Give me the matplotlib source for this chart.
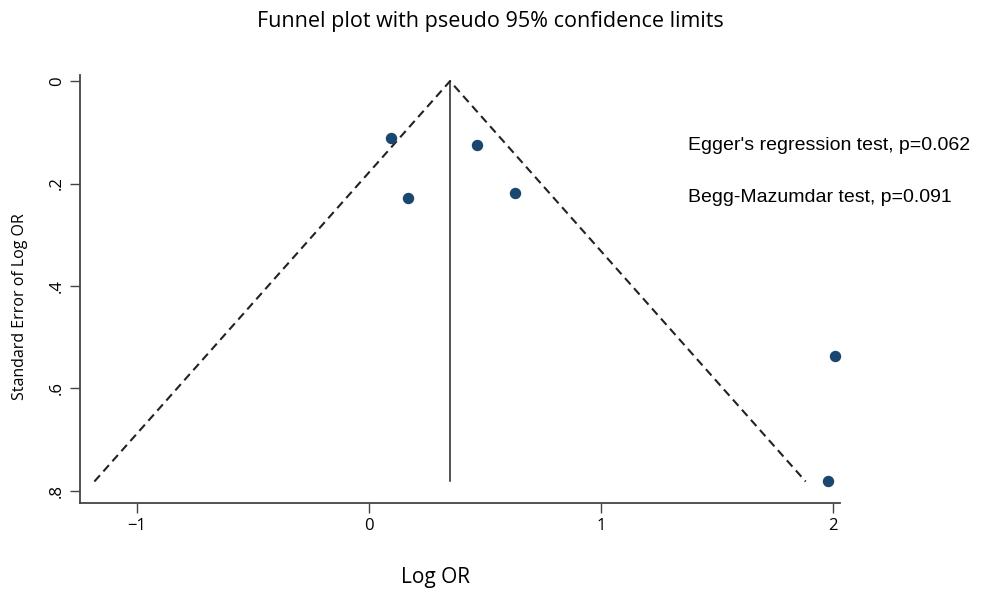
import matplotlib
matplotlib.use("Agg")
import matplotlib.pyplot as plt

# data
log_or = [0.095, 0.168, 0.466, 0.629, 2.009, 1.978]
se_log_or = [0.111, 0.228, 0.125, 0.219, 0.537, 0.782]
pooled = 0.349
funnel_x = [-1.184, 0.349, 1.882]
funnel_y = [0.782, 0.0, 0.782]
xticks = [-1, 0, 1, 2]
xtick_labels = ["\u22121", "0", "1", "2"]
yticks = [0, 0.2, 0.4, 0.6, 0.8]
ytick_labels = ["0", ".2", ".4", ".6", ".8"]
notes = ["Egger's regression test, p=0.062", "Begg-Mazumdar test, p=0.091"]

fig = plt.figure(figsize=(9.82, 5.92), dpi=100)
ax = fig.add_axes([80/982, 1-503/592, (840-80)/982, (503-75)/592])

ax.plot(funnel_x, funnel_y, color="#222222", linestyle=(0, (4, 2.5)), linewidth=1.5)
ax.plot([pooled, pooled], [0, funnel_y[0]], color="#222222", linewidth=1.1)
ax.scatter(log_or, se_log_or, s=52, color="#1a476f", zorder=3, clip_on=False)

ax.set_xlim(-1.246, 2.03)
ax.set_ylim(0.824, -0.012)
ax.set_xticks(xticks)
ax.set_xticklabels(xtick_labels, fontsize=12, family="Open Sans")
ax.set_yticks(yticks)
ax.set_yticklabels(ytick_labels, fontsize=12, family="Open Sans", rotation=90, va="center")
for s in ["top", "right"]:
    ax.spines[s].set_visible(False)
for s in ["left", "bottom"]:
    ax.spines[s].set_color("#444444")
    ax.spines[s].set_linewidth(1.3)
ax.tick_params(length=7, width=1, color="#444444", pad=4)

ax.set_xlabel("Log OR", fontsize=15, family="Open Sans")
ax.xaxis.set_label_coords((436-80)/760, -(577-503)/428)
ax.xaxis.label.set_va("center")
ax.set_ylabel("Standard Error of Log OR", fontsize=11.5, family="Open Sans")
ax.yaxis.set_label_coords(-(80-20)/760, (503-307)/428)
ax.yaxis.label.set_va("center")
fig.text(490/982, 1-22/592, "Funnel plot with pseudo 95% confidence limits",
         ha="center", va="center", fontsize=15.5, family="Open Sans")

ax.text(1.375, 0.125, notes[0], fontsize=14, family="Liberation Sans", va="center", ha="left", clip_on=False)
ax.text(1.375, 0.228, notes[1], fontsize=14, family="Liberation Sans", va="center", ha="left", clip_on=False)

fig.savefig("out.png", dpi=100)
